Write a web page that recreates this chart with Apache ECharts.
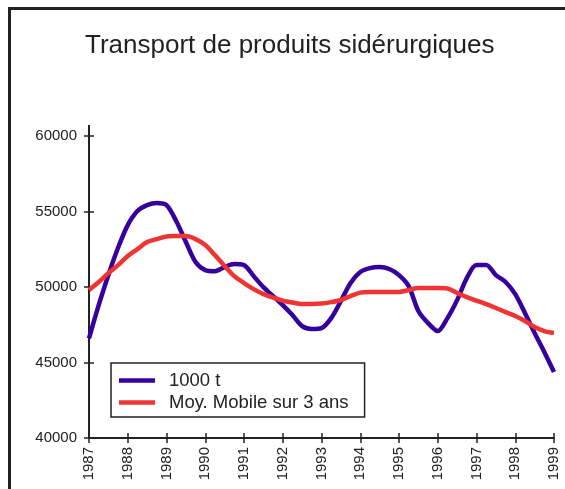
<!DOCTYPE html>
<html>
<head>
<meta charset="utf-8">
<script src="https://cdn.jsdelivr.net/npm/echarts@6/dist/echarts.min.js"></script>
<style>
html,body{margin:0;padding:0;background:#fff;}
#chart{width:565px;height:489px;}
</style>
</head>
<body>
<div id="chart"></div>
<script>
const titleText = 'Transport de produits sidérurgiques';
const years = [1987,1988,1989,1990,1991,1992,1993,1994,1995,1996,1997,1998,1999];
const seriesNames = ['1000 t', 'Moy. Mobile sur 3 ans'];
// quarterly values, 1987 T1 ... 1999 T1
const tonnage = [
  46600, 48800, 50800, 52600, 54100, 55030, 55420, 55560,
  55420, 54370, 52980, 51650, 51120, 51050, 51320, 51520,
  51450, 50720, 49990, 49400, 48800, 48140, 47410, 47220,
  47280, 47940, 49070, 50260, 50990, 51250, 51320, 51190,
  50790, 50060, 48410, 47610, 47080, 47940, 49130, 50590,
  51450, 51450, 50790, 50330, 49530, 48280, 46950, 45690,
  44370
];
const movingAvg = [
  49800, 50330, 50920, 51450, 52050, 52510, 52980, 53170,
  53340, 53370, 53370, 53170, 52780, 52110, 51390, 50720,
  50260, 49860, 49530, 49300, 49100, 48970, 48870, 48870,
  48900, 49000, 49140, 49400, 49630, 49670, 49670, 49670,
  49670, 49800, 49930, 49930, 49930, 49900, 49600, 49330,
  49100, 48870, 48610, 48340, 48080, 47750, 47350, 47080,
  46950
];
const yTicks = {min: 40000, max: 60000, interval: 5000};

const categories = [];
years.forEach(function (y, i) {
  const qs = i === years.length - 1 ? [1] : [1, 2, 3, 4];
  qs.forEach(function (q) { categories.push(y + '-T' + q); });
});

const chart = echarts.init(document.getElementById('chart'), null, {renderer: 'canvas'});
const axisColor = '#222';
const font = 'Liberation Sans, Arial, sans-serif';

function xAx(inside, showLabel) {
  return {
    type: 'category',
    data: categories,
    boundaryGap: false,
    position: 'bottom',
    axisLine: {show: !inside, lineStyle: {color: axisColor, width: 2}},
    axisTick: {show: true, inside: inside, interval: 3, length: 5, lineStyle: {color: axisColor, width: 1.5}},
    axisLabel: {
      show: showLabel, interval: 3, rotate: 90, margin: 9,
      color: '#222', fontSize: 15, fontFamily: font,
      formatter: function (v) { return v.split('-')[0]; }
    },
    splitLine: {show: false}
  };
}
function yAx(inside, showLabel) {
  return {
    type: 'value',
    min: yTicks.min, max: yTicks.max, interval: yTicks.interval,
    position: 'left',
    axisLine: {show: !inside, lineStyle: {color: axisColor, width: 2}},
    axisTick: {show: true, inside: inside, length: 5, lineStyle: {color: axisColor, width: 1.5}},
    axisLabel: {
      show: showLabel, margin: 12, color: '#222', fontSize: 15, fontFamily: font,
      formatter: function (v) { return String(v); }
    },
    splitLine: {show: false}
  };
}

chart.setOption({
  animation: false,
  backgroundColor: '#fff',
  title: {
    text: titleText,
    left: 80,
    top: 28,
    textStyle: {fontSize: 26, fontWeight: 'normal', color: '#222', fontFamily: font}
  },
  grid: {left: 89, right: 11, top: 136, bottom: 51, containLabel: false},
  xAxis: [xAx(false, true), xAx(true, false)],
  yAxis: [yAx(false, true), yAx(true, false)],
  legend: {
    orient: 'vertical',
    left: 111,
    top: 363,
    padding: [8, 16, 5, 8],
    itemGap: 3,
    itemWidth: 36,
    itemHeight: 4.5,
    itemTextGap: 14,
    icon: 'rect',
    borderColor: '#222',
    borderWidth: 1.5,
    backgroundColor: '#fff',
    textStyle: {fontSize: 18.5, color: '#222', fontFamily: font, padding: [0, 0, 0, 9]},
    data: seriesNames
  },
  graphic: [
    {type: 'rect', shape: {x: 9.5, y: 8.5, width: 700, height: 700}, style: {fill: 'none', stroke: '#222', lineWidth: 3}, silent: true},
    {type: 'line', shape: {x1: 89, y1: 125, x2: 89, y2: 137}, style: {stroke: axisColor, lineWidth: 2}, silent: true}
  ],
  series: [
    {
      name: seriesNames[0], type: 'line', data: tonnage, smooth: 0.3,
      showSymbol: false, symbol: 'none',
      lineStyle: {color: '#36009e', width: 4.5},
      itemStyle: {color: '#36009e'}, z: 3
    },
    {
      name: seriesNames[1], type: 'line', data: movingAvg, smooth: 0.3,
      showSymbol: false, symbol: 'none',
      lineStyle: {color: '#f03434', width: 4.5},
      itemStyle: {color: '#f03434'}, z: 4
    }
  ]
});
</script>
</body>
</html>
